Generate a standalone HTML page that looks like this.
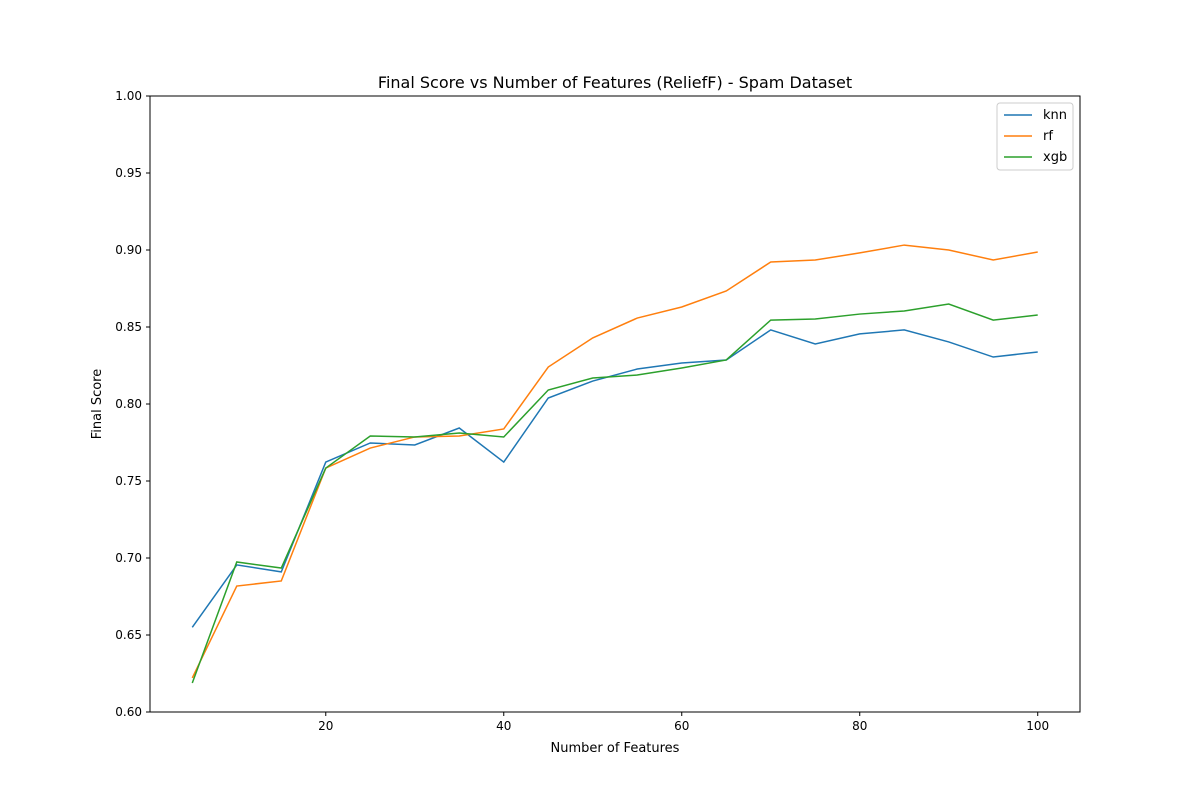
<!DOCTYPE html>
<html><head><meta charset="utf-8"><style>
body{margin:0;background:#fff;}
svg text{font-family:"DejaVu Sans","Liberation Sans",sans-serif;fill:#000;}
</style></head><body>
<svg id="chart" width="1200" height="800" xmlns="http://www.w3.org/2000/svg">
<rect width="1200" height="800" fill="#fff"/>
<text x="615" y="88" font-size="16" text-anchor="middle">Final Score vs Number of Features (ReliefF) - Spam Dataset</text>
<g id="axes"></g>
<g id="lines"></g>
<rect x="150" y="96" width="930" height="616" fill="none" stroke="#000" stroke-width="1"/>
<text x="615" y="752" font-size="13" text-anchor="middle">Number of Features</text>
<text x="101" y="404" font-size="13" text-anchor="middle" transform="rotate(-90 101 404)">Final Score</text>
<g id="legend"></g>
</svg>
<script>
const features=[5,10,15,20,25,30,35,40,45,50,55,60,65,70,75,80,85,90,95,100];
const knn=[0.655,0.6955,0.691,0.7623,0.7747,0.7734,0.7844,0.7623,0.8039,0.8149,0.8227,0.8266,0.8286,0.8481,0.839,0.8455,0.8481,0.8403,0.8305,0.8338];
const rf=[0.6221,0.6818,0.6851,0.7584,0.7714,0.7786,0.7792,0.7838,0.824,0.8429,0.8558,0.863,0.8734,0.8922,0.8935,0.8981,0.9032,0.9,0.8935,0.8987];
const xgb=[0.6188,0.6974,0.6935,0.7584,0.7792,0.7786,0.7812,0.7786,0.8091,0.8169,0.8188,0.8234,0.8286,0.8545,0.8552,0.8584,0.8604,0.8649,0.8545,0.8578];
const xTicks=[20,40,60,80,100];
const yTicks=[0.60,0.65,0.70,0.75,0.80,0.85,0.90,0.95,1.00];
const seriesNames=["knn","rf","xgb"];
const seriesColors=["#1f77b4","#ff7f0e","#2ca02c"];
const NS="http://www.w3.org/2000/svg";
const X0=150,X1=1080,Y0=712,Y1=96,xmin=0.25,xmax=104.75,ymin=0.6,ymax=1.0;
const sx=v=>X0+(v-xmin)/(xmax-xmin)*(X1-X0);
const sy=v=>Y0-(v-ymin)/(ymax-ymin)*(Y0-Y1);
function mk(tag,attrs,parent){const e=document.createElementNS(NS,tag);for(const k in attrs)e.setAttribute(k,attrs[k]);parent.appendChild(e);return e;}
const axes=document.getElementById('axes');
xTicks.forEach(t=>{const x=sx(t);
const l=mk('line',{x1:x,x2:x,y1:Y0,y2:Y0+4,stroke:'#000'},axes);


const tx=mk('text',{x:x,y:Y0+18,'font-size':12,'text-anchor':'middle'},axes);tx.textContent=t;

});
yTicks.forEach(t=>{const y=sy(t);
const l=mk('line',{x1:X0-4,x2:X0,y1:y,y2:y,stroke:'#000'},axes);


const tx=mk('text',{x:X0-8,y:y+4,'font-size':12,'text-anchor':'end'},axes);tx.textContent=t.toFixed(2);

});
const lines=document.getElementById('lines');
[knn,rf,xgb].forEach((s,i)=>{
const p=mk('polyline',{points:s.map((v,j)=>sx(features[j])+','+sy(v)).join(' '),fill:'none',stroke:seriesColors[i],'stroke-width':1.5},lines);

});
const lg=document.getElementById('legend');
const box=mk('rect',{x:997,y:103,width:76,height:67,rx:3,fill:'#fff',stroke:'#ccc'},lg);


seriesNames.forEach((n,i)=>{const y=115+i*21;
const l=mk('line',{x1:1004,x2:1032,y1:y,y2:y,stroke:seriesColors[i],'stroke-width':1.5},lg);


const t=mk('text',{x:1043,y:y+4,'font-size':13},lg);t.textContent=n;

});
</script>
</body></html>
